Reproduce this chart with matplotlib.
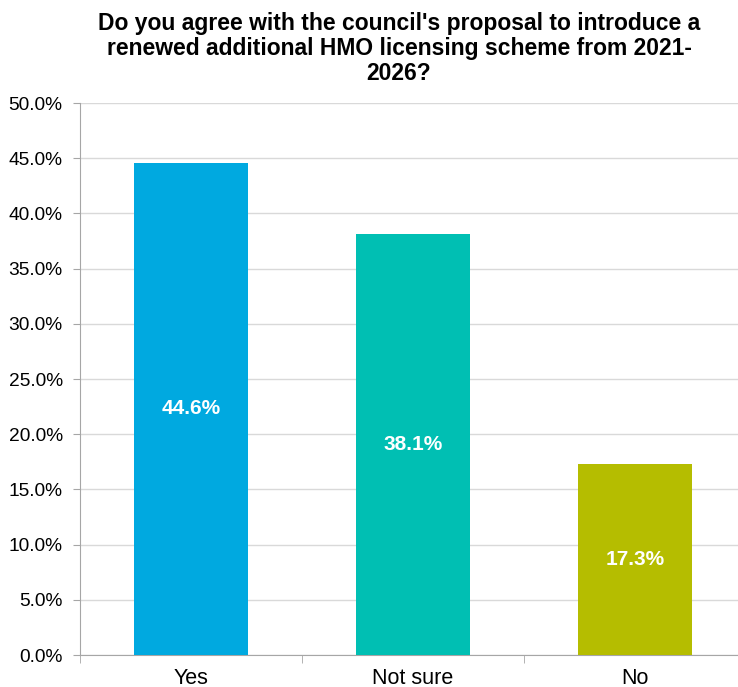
import matplotlib
matplotlib.use("Agg")
import matplotlib.pyplot as plt
from matplotlib.ticker import FixedLocator, FuncFormatter

plt.rcParams['font.family'] = ['Liberation Sans', 'DejaVu Sans']

categories = ["Yes", "Not sure", "No"]
values = [44.6, 38.1, 17.3]
colors = ["#00A9E0", "#00BFB3", "#B5BD00"]
title = "Do you agree with the council's proposal to introduce a\nrenewed additional HMO licensing scheme from 2021-\n2026?"

W, H = 738, 687
fig = plt.figure(figsize=(W/100, H/100), dpi=100)
ax = fig.add_axes([80/W, 32/H, 666/W, 552/H])

x = list(range(len(categories)))
bars = ax.bar(x, values, width=0.51, color=colors, zorder=3)
for b, v in zip(bars, values):
    ax.text(b.get_x() + b.get_width()/2, v/2, f"{v:.1f}%", ha='center', va='center',
            color='white', fontsize=15, fontweight='bold', zorder=4)

ax.set_xlim(-0.5, 2.5)
ax.set_ylim(0, 50)
ax.set_yticks([i*5 for i in range(11)])
ax.yaxis.set_major_formatter(FuncFormatter(lambda v, p: f"{v:.1f}%"))
ax.tick_params(axis='y', labelsize=13.8, length=5, color='#a6a6a6', pad=7.5)
ax.set_xticks(x)
ax.set_xticklabels(categories, fontsize=15.5)
ax.tick_params(axis='x', which='major', length=0, pad=9)
ax.xaxis.set_minor_locator(FixedLocator([-0.5, 0.5, 1.5, 2.5]))
ax.tick_params(axis='x', which='minor', length=6, color='#a6a6a6')

ax.grid(axis='y', color='#d9d9d9', linewidth=1, zorder=0)
for s in ['top', 'right']:
    ax.spines[s].set_visible(False)
for s in ['left', 'bottom']:
    ax.spines[s].set_color('#a6a6a6')

fig.text(399/W, 1 - 12/H, title, ha='center', va='top', fontsize=16.5,
         fontweight='bold', linespacing=1.1)

fig.savefig("out.png", dpi=100)
